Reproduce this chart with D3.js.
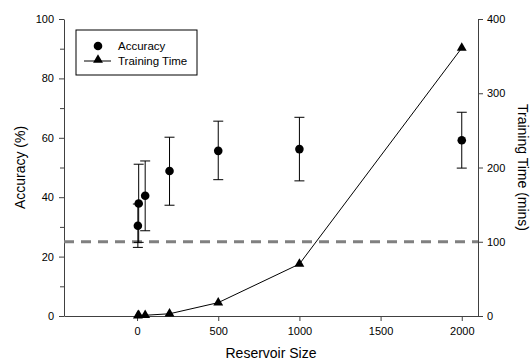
<!DOCTYPE html>
<html>
<head>
<meta charset="utf-8">
<script src="https://cdn.jsdelivr.net/npm/d3@7"></script>
<style>
  body { margin: 0; background: #fff; }
  svg { display: block; font-family: "Liberation Sans", Arial, sans-serif; }
  .axis path, .axis line { stroke: #404040; }
  .axis text { fill: #000; font-size: 11px; }
</style>
</head>
<body>
<script>
// data
var reservoirSize = [5, 10, 50, 200, 500, 1000, 2000];
var accuracy      = [30.4, 37.9, 40.5, 48.8, 55.6, 56.2, 59.2];
var accLow        = [23.1, 24.8, 28.7, 37.3, 45.9, 45.5, 49.8];
var accHigh       = [37.7, 51.1, 52.2, 60.2, 65.6, 66.9, 68.6];
var trainTime     = [0.5, 1, 1, 3, 18, 70, 361];
var chanceLevel   = 25;
var xTicks  = [0, 500, 1000, 1500, 2000];
var yTicks  = [0, 20, 40, 60, 80, 100];
var yMinor  = [10, 30, 50, 70, 90];
var y2Ticks = [0, 100, 200, 300, 400];

var width = 532, height = 362,
    margin = {left: 64, top: 19, right: 54, bottom: 46},
    svg = d3.select("body").append("svg").attr("width", width).attr("height", height),
    w = width - margin.left - margin.right,
    h = height - margin.top - margin.bottom,
    g = svg.append("g").attr("transform", "translate(" + margin.left + "," + margin.top + ")");

var x = d3.scaleLinear().domain([-450, 2100]).range([0, w]),
    y = d3.scaleLinear().domain([0, 100]).range([h, 0]),
    y2 = d3.scaleLinear().domain([0, 400]).range([h, 0]);

// axes
g.append("g").attr("class", "axis")
  .attr("transform", "translate(0," + h + ")")
  .call(d3.axisBottom(x).tickValues(xTicks).tickFormat(d3.format("d"))
          .tickSize(5).tickSizeOuter(0).tickPadding(6));
g.append("g").attr("class", "axis")
  .call(d3.axisLeft(y).tickValues(yTicks).tickSize(5).tickSizeOuter(0).tickPadding(5));
g.append("g").attr("class", "axis")
  .call(d3.axisLeft(y).tickValues(yMinor).tickSize(4).tickFormat("")).select(".domain").remove();
g.append("g").attr("class", "axis")
  .attr("transform", "translate(" + w + ",0)")
  .call(d3.axisRight(y2).tickValues(y2Ticks).tickSize(5).tickSizeOuter(0).tickPadding(4));

// axis titles
svg.append("text").attr("x", margin.left + w / 2).attr("y", 358)
  .attr("text-anchor", "middle").style("font-size", "14px").text("Reservoir Size");
svg.append("text").attr("transform", "translate(25," + (margin.top + h / 2) + ") rotate(-90)")
  .attr("text-anchor", "middle").style("font-size", "14px").text("Accuracy (%)");
svg.append("text").attr("transform", "translate(518," + (margin.top + h / 2) + ") rotate(90)")
  .attr("text-anchor", "middle").style("font-size", "14px").text("Training Time (mins)");

// chance line
g.append("line")
  .attr("x1", 0).attr("x2", w)
  .attr("y1", y(chanceLevel)).attr("y2", y(chanceLevel))
  .attr("stroke", "#808080").attr("stroke-width", 3).attr("stroke-dasharray", "10,7");

// training time line + triangles
var line = d3.line().x(function(d, i){ return x(reservoirSize[i]); })
                    .y(function(d){ return y2(d); });
g.append("path").datum(trainTime)
  .attr("d", line).attr("fill", "none").attr("stroke", "#000").attr("stroke-width", 1);
g.selectAll(".tri").data(trainTime).enter().append("path")
  .attr("class", "tri")
  .attr("d", d3.symbol().type(d3.symbolTriangle).size(42))
  .attr("transform", function(d, i){ return "translate(" + x(reservoirSize[i]) + "," + y2(d) + ")"; })
  .attr("fill", "#000");

// error bars
var capW = 5;
var eb = g.selectAll(".err").data(accuracy).enter().append("g").attr("class", "err")
  .attr("stroke", "#000").attr("stroke-width", 1);
eb.append("line")
  .attr("x1", function(d, i){ return x(reservoirSize[i]); })
  .attr("x2", function(d, i){ return x(reservoirSize[i]); })
  .attr("y1", function(d, i){ return y(accLow[i]); })
  .attr("y2", function(d, i){ return y(accHigh[i]); });
eb.append("line")
  .attr("x1", function(d, i){ return x(reservoirSize[i]) - capW; })
  .attr("x2", function(d, i){ return x(reservoirSize[i]) + capW; })
  .attr("y1", function(d, i){ return y(accHigh[i]); })
  .attr("y2", function(d, i){ return y(accHigh[i]); });
eb.append("line")
  .attr("x1", function(d, i){ return x(reservoirSize[i]) - capW; })
  .attr("x2", function(d, i){ return x(reservoirSize[i]) + capW; })
  .attr("y1", function(d, i){ return y(accLow[i]); })
  .attr("y2", function(d, i){ return y(accLow[i]); });

g.selectAll(".dot").data(accuracy).enter().append("circle")
  .attr("class", "dot")
  .attr("cx", function(d, i){ return x(reservoirSize[i]); })
  .attr("cy", function(d){ return y(d); })
  .attr("r", 4.3).attr("fill", "#000");

// legend
var lg = svg.append("g").attr("transform", "translate(76,30)");
lg.append("rect").attr("width", 121).attr("height", 45)
  .attr("fill", "#fff").attr("stroke", "#000").attr("stroke-width", 1);
lg.append("circle").attr("cx", 22).attr("cy", 16).attr("r", 4.3).attr("fill", "#000");
lg.append("line").attr("x1", 8).attr("x2", 35).attr("y1", 31).attr("y2", 31).attr("stroke", "#000");
lg.append("path").attr("d", d3.symbol().type(d3.symbolTriangle).size(42)())
  .attr("transform", "translate(22,30)").attr("fill", "#000");
lg.append("text").attr("x", 42).attr("y", 20).style("font-size", "11.5px").text("Accuracy");
lg.append("text").attr("x", 42).attr("y", 35).style("font-size", "11.5px").text("Training Time");
</script>
</body>
</html>
